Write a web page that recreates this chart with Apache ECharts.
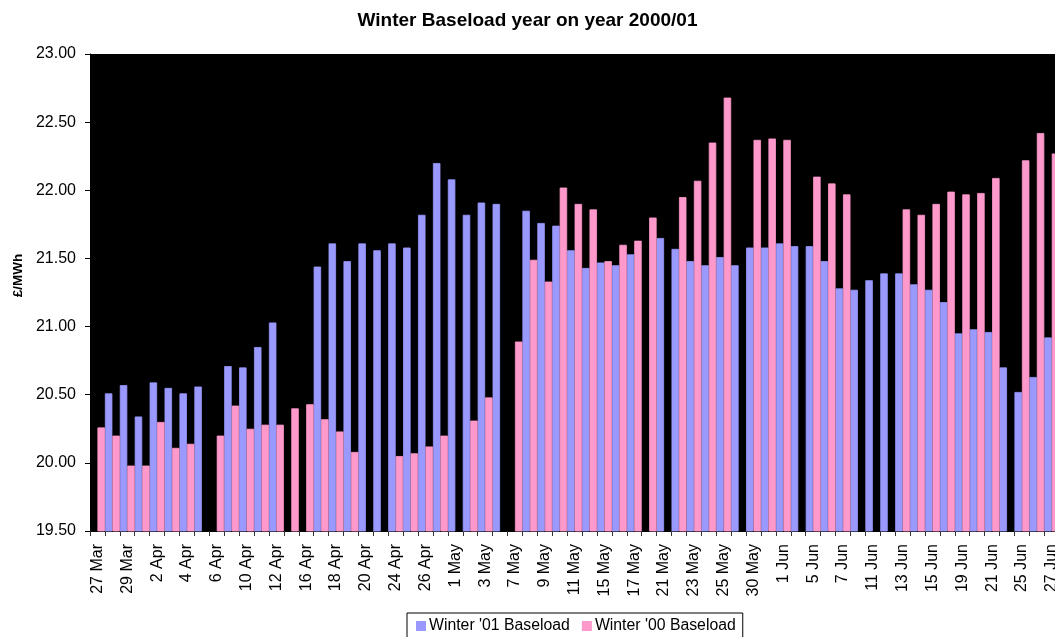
<!DOCTYPE html>
<html>
<head>
<meta charset="utf-8">
<title>Winter Baseload year on year 2000/01</title>
<script src="https://cdn.jsdelivr.net/npm/echarts@6/dist/echarts.min.js"></script>
<style>
  html, body { margin: 0; padding: 0; background: #ffffff; }
  #chart { width: 1055px; height: 637px; }
</style>
</head>
<body>
<div id="chart"></div>
<script>
// Trading days on the category axis (every other one is labelled)
const categories = [
  '27 Mar', '28 Mar', '29 Mar', '30 Mar', '2 Apr', '3 Apr', '4 Apr', '5 Apr', '6 Apr', '9 Apr',
  '10 Apr', '11 Apr', '12 Apr', '13 Apr', '16 Apr', '17 Apr', '18 Apr', '19 Apr', '20 Apr', '23 Apr',
  '24 Apr', '25 Apr', '26 Apr', '27 Apr', '1 May', '2 May', '3 May', '4 May', '7 May', '8 May',
  '9 May', '10 May', '11 May', '14 May', '15 May', '16 May', '17 May', '18 May', '21 May', '22 May',
  '23 May', '24 May', '25 May', '29 May', '30 May', '31 May', '1 Jun', '4 Jun', '5 Jun', '6 Jun',
  '7 Jun', '8 Jun', '11 Jun', '12 Jun', '13 Jun', '14 Jun', '15 Jun', '18 Jun', '19 Jun', '20 Jun',
  '21 Jun', '22 Jun', '25 Jun', '26 Jun', '27 Jun'
];

// Winter '01 baseload price, £/MWh (null = no quote that day)
const winter01 = [
  null, 20.51, 20.57, 20.34, 20.59, 20.55, 20.51, 20.56, null, 20.71,
  20.70, 20.85, 21.03, null, null, 21.44, 21.61, 21.48, 21.61, 21.56,
  21.61, 21.58, 21.82, 22.20, 22.08, 21.82, 21.91, 21.90, null, 21.85,
  21.76, 21.74, 21.56, 21.43, 21.47, 21.45, 21.53, null, 21.65, 21.57,
  21.48, 21.45, 21.51, 21.45, 21.58, 21.58, 21.61, 21.59, 21.59, 21.48,
  21.28, 21.27, 21.34, 21.39, 21.39, 21.31, 21.27, 21.18, 20.95, 20.98,
  20.96, 20.70, 20.52, 20.63, 20.92
];

// Winter '00 baseload price, £/MWh (null = no quote that day)
const winter00 = [
  20.26, 20.20, 19.98, 19.98, 20.30, 20.11, 20.14, null, 20.20, 20.42,
  20.25, 20.28, 20.28, 20.40, 20.43, 20.32, 20.23, 20.08, null, null,
  20.05, 20.07, 20.12, 20.20, null, 20.31, 20.48, null, 20.89, 21.49,
  21.33, 22.02, 21.90, 21.86, 21.48, 21.60, 21.63, 21.80, null, 21.95,
  22.07, 22.35, 22.68, null, 22.37, 22.38, 22.37, null, 22.10, 22.05,
  21.97, null, null, null, 21.86, 21.82, 21.90, 21.99, 21.97, 21.98,
  22.09, null, 22.22, 22.42, 22.27
];

// Value axis range and step
const yMin = 19.5;
const yMax = 23.0;
const yStep = 0.5;

const FONT = '"Liberation Sans", Arial, Helvetica, sans-serif';
const BLUE = '#9999FF';
const PINK = '#FF99CC';

const chart = echarts.init(document.getElementById('chart'), null, { renderer: 'canvas' });

chart.setOption({
  backgroundColor: '#ffffff',
  animation: false,
  title: {
    text: 'Winter Baseload year on year 2000/01',
    left: 'center',
    top: 11,
    padding: 0,
    textStyle: { fontFamily: FONT, fontSize: 19, fontWeight: 'bold', color: '#000000' }
  },
  legend: {
    left: 407,
    top: 613,
    padding: [5, 7, 6, 9],
    itemGap: 12,
    itemWidth: 8,
    itemHeight: 8,
    icon: 'rect',
    backgroundColor: '#ffffff',
    borderColor: '#000000',
    borderWidth: 1,
    borderRadius: 0,
    textStyle: { fontFamily: FONT, fontSize: 15.8, color: '#000000', padding: [0, 0, 0, -1] },
    data: ["Winter '01 Baseload", "Winter '00 Baseload"]
  },
  grid: {
    left: 90,
    right: -4.2,
    top: 54,
    bottom: 106,
    show: true,
    backgroundColor: '#000000',
    borderWidth: 0,
    containLabel: false,
    outerBoundsMode: 'none'
  },
  xAxis: {
    type: 'category',
    data: categories,
    boundaryGap: true,
    axisLine: { show: true, lineStyle: { color: '#000000', width: 1 } },
    axisTick: { show: true, interval: 0, length: 5, inside: false, lineStyle: { color: '#333333' } },
    axisLabel: {
      interval: 1,
      rotate: 90,
      margin: 13,
      fontFamily: FONT,
      fontSize: 16,
      color: '#000000'
    },
    splitLine: { show: false }
  },
  yAxis: {
    type: 'value',
    min: yMin,
    max: yMax,
    interval: yStep,
    name: '£/MWh',
    nameLocation: 'middle',
    nameRotate: 90,
    nameGap: 65,
    nameTextStyle: {
      fontFamily: FONT,
      fontSize: 13.5,
      fontWeight: 'bold',
      color: '#000000',
      padding: [0, 0, 0, 34]
    },
    axisLine: { show: true, lineStyle: { color: '#000000', width: 1 } },
    axisTick: { show: true, length: 5, inside: false, lineStyle: { color: '#000000' } },
    axisLabel: {
      margin: 14,
      fontFamily: FONT,
      fontSize: 16,
      color: '#000000',
      formatter: v => v.toFixed(2)
    },
    splitLine: { show: false }
  },
  series: [
    {
      name: "Winter '01 Baseload",
      type: 'bar',
      data: winter01,
      barGap: '0%',
      barCategoryGap: '0%',
      // same-colour outline closes the anti-aliasing seams between adjacent bars
      itemStyle: { color: BLUE, borderColor: BLUE, borderWidth: 0.8 }
    },
    {
      name: "Winter '00 Baseload",
      type: 'bar',
      data: winter00,
      barGap: '0%',
      barCategoryGap: '0%',
      itemStyle: { color: PINK, borderColor: PINK, borderWidth: 0.8 }
    }
  ]
});
</script>
</body>
</html>
